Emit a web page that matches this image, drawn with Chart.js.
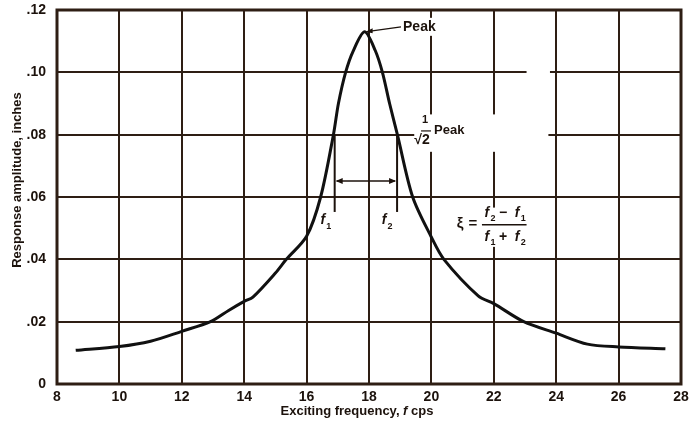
<!DOCTYPE html>
<html>
<head>
<meta charset="utf-8">
<title>Response amplitude vs exciting frequency</title>
<script src="https://cdn.jsdelivr.net/npm/chart.js"></script>
<style>
  html, body { margin: 0; padding: 0; background: #fff; }
</style>
</head>
<body>
<canvas id="responseChart" width="693" height="424"></canvas>
<script>
// values
const freq = [8.6, 10, 11, 12, 12.92, 13.5, 14, 14.28, 15, 15.35, 16, 16.45, 16.86, 17.02, 17.25, 17.5, 17.86, 18.2, 18.43, 18.66, 18.91, 19.4, 20, 20.4, 21.5, 22, 22.96, 24, 25, 26, 27.5];
const amp  = [0.0108, 0.012, 0.0137, 0.0169, 0.020, 0.0236, 0.0265, 0.0279, 0.0356, 0.040, 0.0474, 0.060, 0.080, 0.090, 0.100, 0.107, 0.113, 0.107, 0.100, 0.090, 0.080, 0.060, 0.0471, 0.040, 0.0283, 0.0258, 0.020, 0.0163, 0.0128, 0.0119, 0.0113];

const f1 = 16.9;
const f2 = 18.9;
const peak = { x: 17.86, y: 0.113 };
const halfPower = 0.08;

const ink = '#1c120c';
const gridInk = '#2e1e14';
const font = '"Liberation Sans", Arial, sans-serif';

// text, arrows and the f1/f2 markers
const notes = {
  id: 'notes',
  afterDatasetsDraw(chart) {
    const { ctx, chartArea: a, scales: { x, y } } = chart;
    const px = v => x.getPixelForValue(v);
    const py = v => y.getPixelForValue(v);

    ctx.save();
    ctx.fillStyle = ink;
    ctx.strokeStyle = ink;
    ctx.textBaseline = 'middle';

    // blank patches in the printed grid
    ctx.fillStyle = '#fff';
    ctx.fillRect(px(19.45), py(0.0865), px(23.75) - px(19.45), py(0.0745) - py(0.0865));
    ctx.fillRect(px(23.05), py(0.1012), px(23.8) - px(23.05), 5);

    // Peak label
    ctx.font = 'bold 14px ' + font;
    const lx = px(19.09), ly = py(0.1146);
    const lw = ctx.measureText('Peak').width;
    ctx.fillRect(lx - 1, ly - 9, lw + 3, 18);
    ctx.fillStyle = ink;
    ctx.textAlign = 'left';
    ctx.fillText('Peak', lx, ly);
    ctx.lineWidth = 1.3;
    ctx.beginPath();
    ctx.moveTo(px(peak.x) + 4, py(peak.y) - 0.5);
    ctx.lineTo(lx - 2, ly);
    ctx.stroke();
    ctx.beginPath();
    ctx.moveTo(px(peak.x) + 1, py(peak.y));
    ctx.lineTo(px(peak.x) + 8, py(peak.y) - 3.5);
    ctx.lineTo(px(peak.x) + 8, py(peak.y) + 1.5);
    ctx.closePath();
    ctx.fill();

    // 1/sqrt2 Peak
    const rx = px(19.7);
    ctx.font = 'bold 11px ' + font;
    ctx.textAlign = 'center';
    ctx.fillText('1', rx + 3, py(0.0847));
    ctx.font = 'bold 14px ' + font;
    ctx.fillText('\u221A2', rx, py(0.0781));
    ctx.lineWidth = 1.2;
    ctx.beginPath();
    ctx.moveTo(rx - 1, py(0.0812));
    ctx.lineTo(rx + 9, py(0.0812));
    ctx.stroke();
    ctx.textAlign = 'left';
    ctx.font = 'bold 13px ' + font;
    ctx.fillText('Peak', rx + 12, py(0.0815));

    // f1 / f2 markers and bandwidth arrow
    ctx.lineWidth = 2;
    [f1, f2].forEach(f => {
      ctx.beginPath();
      ctx.moveTo(px(f), py(halfPower));
      ctx.lineTo(px(f), py(0.0552));
      ctx.stroke();
    });
    const ay = py(0.0651);
    ctx.lineWidth = 1.5;
    ctx.beginPath();
    ctx.moveTo(px(f1) + 2, ay);
    ctx.lineTo(px(f2) - 2, ay);
    ctx.stroke();
    [[px(f1) + 1, 1], [px(f2) - 1, -1]].forEach(([tx, d]) => {
      ctx.beginPath();
      ctx.moveTo(tx, ay);
      ctx.lineTo(tx + 7 * d, ay - 3);
      ctx.lineTo(tx + 7 * d, ay + 3);
      ctx.closePath();
      ctx.fill();
    });

    // f with subscript
    const fSub = (cx, cy, sub) => {
      ctx.textAlign = 'center';
      ctx.font = 'italic bold 14px ' + font;
      ctx.fillText('f', cx, cy);
      ctx.font = 'bold 9px ' + font;
      ctx.fillText(sub, cx + 6, cy + 6);
    };
    fSub(px(16.52), py(0.0525), '1');
    fSub(px(18.48), py(0.0525), '2');

    // damping ratio formula
    ctx.fillStyle = '#fff';
    ctx.fillRect(px(20.75), py(0.0566), px(23.25) - px(20.75), py(0.0440) - py(0.0566));
    ctx.fillStyle = ink;
    ctx.font = 'bold 15px ' + font;
    ctx.textAlign = 'center';
    ctx.fillText('\u03BE', px(20.92), py(0.0513));
    ctx.fillText('=', px(21.33), py(0.0513));
    const numY = py(0.0549), denY = py(0.0472);
    fSub(px(21.78), numY, '2');
    ctx.font = 'bold 14px ' + font;
    ctx.fillText('\u2212', px(22.3), numY);
    fSub(px(22.75), numY, '1');
    fSub(px(21.78), denY, '1');
    ctx.font = 'bold 14px ' + font;
    ctx.fillText('+', px(22.3), denY);
    fSub(px(22.75), denY, '2');
    ctx.lineWidth = 1.3;
    ctx.beginPath();
    ctx.moveTo(px(21.62), py(0.0511));
    ctx.lineTo(px(23.05), py(0.0511));
    ctx.stroke();

    // frame
    ctx.lineWidth = 3;
    ctx.strokeStyle = gridInk;
    ctx.strokeRect(a.left, a.top, a.right - a.left, a.bottom - a.top);

    // axis titles
    ctx.fillStyle = ink;
    ctx.font = 'bold 13px ' + font;
    ctx.textAlign = 'center';
    ctx.save();
    ctx.translate(17, 180);
    ctx.rotate(-Math.PI / 2);
    ctx.fillText('Response amplitude, inches', 0, 0);
    ctx.restore();

    const parts = [
      ['Exciting frequency, ', 'bold 13px ' + font],
      ['f', 'italic bold 13px ' + font],
      [' cps', 'bold 13px ' + font]
    ];
    let total = 0;
    parts.forEach(([t, f]) => { ctx.font = f; total += ctx.measureText(t).width; });
    let cx = 357 - total / 2;
    ctx.textAlign = 'left';
    parts.forEach(([t, f]) => {
      ctx.font = f;
      ctx.fillText(t, cx, 411);
      cx += ctx.measureText(t).width;
    });
    ctx.restore();
  }
};

new Chart(document.getElementById('responseChart'), {
  type: 'line',
  data: {
    datasets: [{
      data: freq.map((f, i) => ({ x: f, y: amp[i] })),
      borderColor: '#111',
      borderWidth: 3,
      pointRadius: 0,
      fill: false,
      tension: 0.3
    }]
  },
  options: {
    responsive: false,
    animation: false,
    layout: { padding: { top: 10, right: 12, left: 0, bottom: 0 } },
    plugins: {
      legend: { display: false },
      tooltip: { enabled: false }
    },
    scales: {
      x: {
        type: 'linear',
        min: 8,
        max: 28,
        afterFit: s => { s.height = 40; s.paddingLeft = 0; s.paddingRight = 0; },
        grid: { color: gridInk, lineWidth: 2, drawTicks: false },
        border: { display: false },
        ticks: {
          stepSize: 2,
          padding: 5,
          color: ink,
          font: { family: font, size: 14, weight: 'bold' }
        }
      },
      y: {
        min: 0,
        max: 0.12,
        afterFit: s => { s.width = 57; s.paddingTop = 0; s.paddingBottom = 0; },
        grid: { color: gridInk, lineWidth: 2, drawTicks: false },
        border: { display: false },
        ticks: {
          stepSize: 0.02,
          padding: 11,
          color: ink,
          font: { family: font, size: 14, weight: 'bold' },
          callback: v => v === 0 ? '0' : v.toFixed(2).replace(/^0/, '')
        }
      }
    }
  },
  plugins: [notes]
});
</script>
</body>
</html>
